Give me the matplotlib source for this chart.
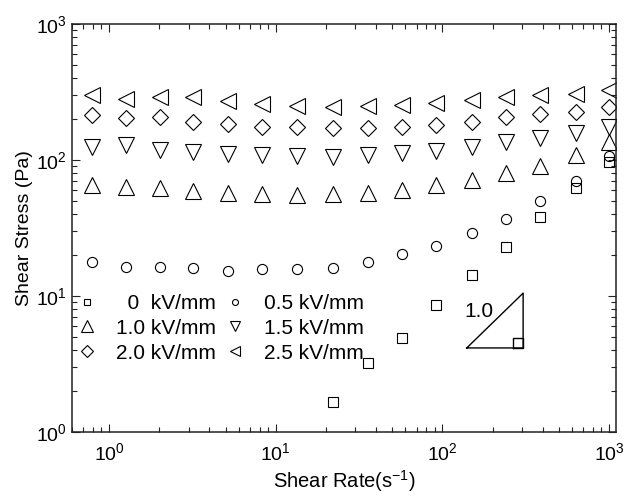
import numpy as np
import matplotlib
matplotlib.use("Agg")
import matplotlib.pyplot as plt
from matplotlib.lines import Line2D

plt.rcParams['font.family'] = ['Liberation Sans', 'DejaVu Sans']
plt.rcParams['mathtext.fontset'] = 'custom'
plt.rcParams['mathtext.rm'] = 'Liberation Sans'
plt.rcParams['mathtext.it'] = 'Liberation Sans:italic'

# shear rate sweep (s^-1), same for every field strength
shear_rate = [0.796, 1.27, 2.01, 3.18, 5.17, 8.3, 13.5, 22.2, 35.6, 57,
              91.4, 151, 241, 387, 629, 1000]

# shear stress (Pa) for each electric field
stress_0kv = [1.65, 3.24, 4.89, 8.6, 14.3, 22.8, 37.9, 62, 97]  # from 22 s^-1 on
stress_05kv = [17.9, 16.4, 16.4, 16.0, 15.3, 15.7, 15.7, 16.1, 17.9, 20.3,
               23.4, 29.2, 36.6, 50, 70, 107]
stress_10kv = [66, 63.6, 62, 59.5, 57.5, 56.2, 55.3, 56, 57.5, 60.1,
               65.5, 71.2, 79.8, 90.8, 109, 136]
stress_15kv = [125, 129, 119, 115, 111, 109, 107, 106, 109, 112,
               117, 125, 136, 145, 159, 175]
stress_20kv = [214, 203, 208, 191, 183, 176, 174, 171, 171, 176,
               181, 191, 206, 218, 224, 247]
stress_25kv = [300, 281, 292, 292, 272, 258, 251, 246, 251, 253,
               261, 276, 292, 300, 305, 327]

labels = ['  0  kV/mm', '0.5 kV/mm', '1.0 kV/mm', '1.5 kV/mm', '2.0 kV/mm', '2.5 kV/mm']

# slope-1 guide triangle
slope_x = [140, 305]
slope_y = [4.15, 10.5]
corner_box = [266, 4.91]


def main():
    fig = plt.figure(figsize=(6.29, 4.96), dpi=100)
    ax = fig.add_axes([72/629, 1-432/496, 544/629, 408/496])

    kw = dict(ls='none', mfc='none', mec='black', mew=0.8)
    ax.plot(shear_rate[-len(stress_0kv):], stress_0kv, marker='s', ms=7, **kw)
    ax.plot(shear_rate, stress_05kv, marker='o', ms=7.3, **kw)
    ax.plot(shear_rate, stress_10kv, marker='^', ms=11, **kw)
    ax.plot(shear_rate, stress_15kv, marker='v', ms=11, **kw)
    ax.plot(shear_rate, stress_20kv, marker='D', ms=8, **kw)
    ax.plot(shear_rate, stress_25kv, marker='<', ms=11, **kw)

    # guide triangle with right-angle box
    ax.plot([slope_x[0], slope_x[1], slope_x[1], slope_x[0]],
            [slope_y[0], slope_y[0], slope_y[1], slope_y[0]], color='black', lw=1)
    ax.plot([corner_box[0], slope_x[1], slope_x[1], corner_box[0], corner_box[0]],
            [slope_y[0], slope_y[0], corner_box[1], corner_box[1], slope_y[0]],
            color='black', lw=1)
    ax.text(166, 7.7, '1.0', fontsize=15, ha='center', va='center')

    ax.set_xscale('log')
    ax.set_yscale('log')
    ax.set_xlim(0.6, 1100)
    ax.set_ylim(1, 1000)

    ax.tick_params(which='both', direction='in', top=True, right=True,
                   labelsize=14, width=0.8, color='#222222')
    ax.tick_params(axis='x', pad=7)
    ax.tick_params(axis='y', pad=4)
    ax.tick_params(which='major', length=6)
    ax.tick_params(which='minor', length=3.5)
    for s in ax.spines.values():
        s.set_linewidth(1.1)
        s.set_color('#222222')

    ax.set_xlabel('Shear Rate(s$^{-1}$)', fontsize=14.5, labelpad=3)
    ax.set_ylabel('Shear Stress (Pa)', fontsize=14, labelpad=2)

    # smaller symbols in the key
    lk = dict(ls='none', mfc='none', mec='black', mew=0.8)
    key = [Line2D([], [], marker='s', ms=4.5, **lk),
           Line2D([], [], marker='^', ms=8, **lk),
           Line2D([], [], marker='D', ms=6.5, **lk),
           Line2D([], [], marker='o', ms=4.3, **lk),
           Line2D([], [], marker='v', ms=7.5, **lk),
           Line2D([], [], marker='<', ms=7, **lk)]
    ax.legend(key, [labels[0], labels[2], labels[4], labels[1], labels[3], labels[5]],
              ncol=2, frameon=False, fontsize=15,
              handlelength=1.0, handletextpad=0.9, columnspacing=0.4,
              labelspacing=0.28, borderpad=0, loc='upper left',
              bbox_to_anchor=(-0.011, 0.364))

    fig.savefig('out.png', dpi=100)


if __name__ == '__main__':
    main()
